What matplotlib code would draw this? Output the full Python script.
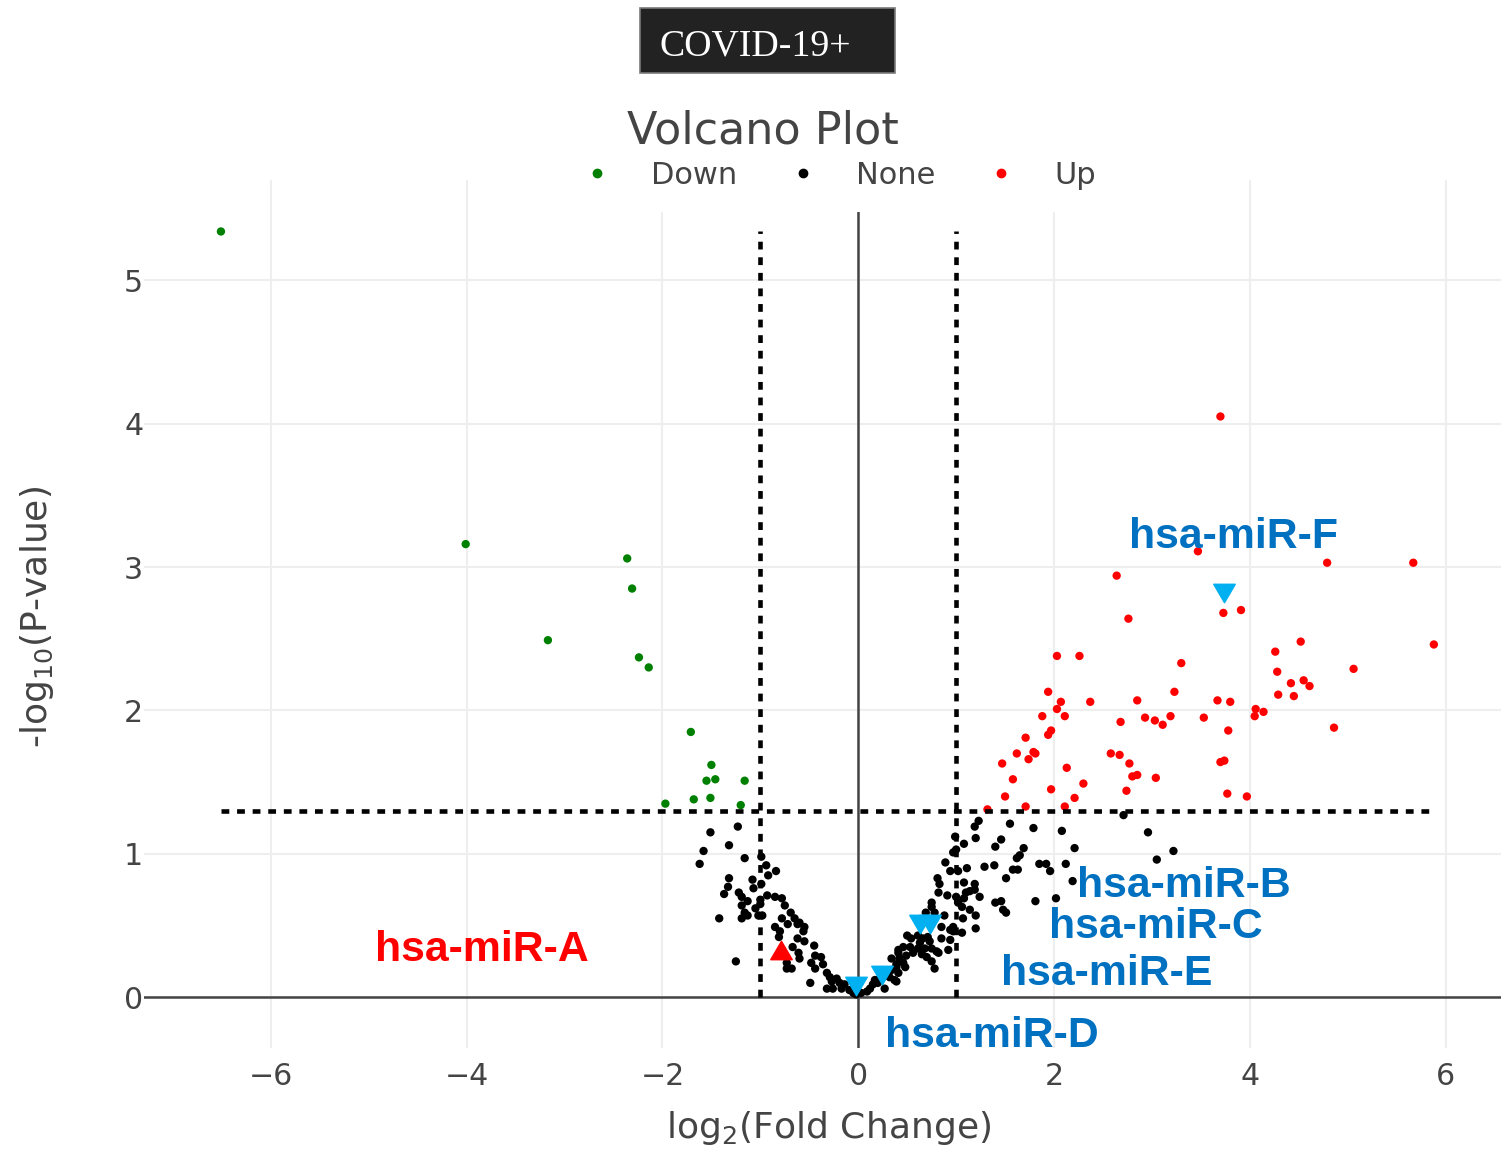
import matplotlib
matplotlib.use("Agg")
import matplotlib.pyplot as plt
from matplotlib.path import Path
from matplotlib.patches import Rectangle
from matplotlib.lines import Line2D

plt.rcParams['font.family'] = ['DejaVu Sans']
plt.rcParams['mathtext.default'] = 'regular'

# ---------------- data: log2 fold change / -log10 p-value ----------------
down_x = [-6.51, -4.01, -3.17, -2.36, -2.31, -2.24, -2.14, -1.71, -1.50, -1.55,
          -1.46, -1.16, -1.97, -1.68, -1.51, -1.20]
down_y = [5.34, 3.16, 2.49, 3.06, 2.85, 2.37, 2.30, 1.85, 1.62, 1.51,
          1.52, 1.51, 1.35, 1.38, 1.39, 1.34]

up_x = [3.47, 4.79, 5.67, 2.64, 3.73, 3.91, 2.76, 5.88, 4.52, 4.26,
        2.03, 2.26, 3.30, 5.06, 4.28, 4.42, 4.55, 4.61, 4.29, 4.45,
        1.94, 2.07, 2.37, 2.85, 3.23, 3.67, 3.80, 4.06, 4.14, 4.05,
        2.03, 1.88, 2.11, 2.68, 2.93, 3.03, 3.11, 3.19, 3.53, 3.78,
        4.86, 1.97, 1.94, 1.71, 1.62, 1.79, 1.81, 1.74, 1.47, 2.58,
        2.67, 2.77, 3.70, 3.74, 2.13, 1.58, 2.80, 2.85, 3.04, 1.50,
        1.97, 2.30, 2.74, 3.77, 3.97, 1.32, 1.71, 2.11, 2.21, 3.70]
up_y = [3.11, 3.03, 3.03, 2.94, 2.68, 2.70, 2.64, 2.46, 2.48, 2.41,
        2.38, 2.38, 2.33, 2.29, 2.27, 2.19, 2.21, 2.17, 2.11, 2.10,
        2.13, 2.06, 2.06, 2.07, 2.13, 2.07, 2.06, 2.01, 1.99, 1.96,
        2.01, 1.96, 1.96, 1.92, 1.95, 1.93, 1.90, 1.96, 1.95, 1.86,
        1.88, 1.86, 1.83, 1.81, 1.70, 1.71, 1.70, 1.66, 1.63, 1.70,
        1.69, 1.63, 1.64, 1.65, 1.60, 1.52, 1.54, 1.55, 1.53, 1.40,
        1.45, 1.49, 1.44, 1.42, 1.40, 1.31, 1.33, 1.33, 1.39, 4.05]

none_x = [-1.23, -1.51, -1.32, -1.58, -1.62, -1.16, -0.99, -0.94, -0.84, -0.92,
          -1.32, -1.08, -0.99, -1.33, -1.07, -1.37, -1.22, -1.19, -0.93, -0.85,
          -0.78, -1.13, -1.00, -1.19, -1.00, -0.75, -1.05, -1.16, -0.69, -1.13,
          -1.19, -1.02, -0.98, -1.42, -0.78, -0.65, -0.72, -0.62, -0.85, -0.80,
          -0.81, -0.62, -0.67, -0.61, -1.25, -0.73, -0.73, -0.68, -0.60, -0.55,
          -0.56, -0.55, -0.60, -0.45, -0.44, -0.38, -0.48, -0.44, -0.36, -0.32,
          -0.49, -0.29, -0.27, -0.22, -0.19, -0.32, -0.26, -0.17, -0.14, -0.09,
          -0.05, -0.02, 0.03, 0.09, 0.12, 0.15, 0.17, 0.20, 0.22, 0.27,
          0.32, 0.34, 0.34, 0.39, 0.41, 0.37, 1.23, 1.19, 0.99, 1.20,
          1.08, 1.40, 1.00, 0.97, 0.89, 1.29, 1.39, 0.94, 1.02, 1.11,
          0.81, 0.83, 1.08, 1.19, 1.19, 1.14, 0.82, 0.91, 1.00, 1.10,
          1.08, 1.24, 0.75, 1.02, 1.40, 0.75, 1.06, 1.14, 1.46, 0.69,
          0.78, 0.88, 1.07, 1.20, 0.97, 0.85, 0.94, 1.20, 0.85, 0.94,
          0.97, 1.06, 0.50, 0.54, 0.61, 0.66, 0.71, 0.73, 0.63, 0.46,
          0.53, 0.61, 0.68, 0.75, 0.80, 0.92, 0.41, 0.49, 0.56, 0.65,
          0.70, 0.82, 0.42, 0.46, 0.75, 0.39, 0.48, 0.41, 0.78, 0.39,
          2.71, 1.55, 1.79, 2.08, 2.96, 1.46, 1.69, 2.21, 3.22, 1.65,
          1.62, 1.85, 1.92, 2.12, 3.05, 1.58, 1.63, 1.96, 1.51, 2.19,
          1.81, 2.02, 1.48, 1.51]
none_y = [1.19, 1.15, 1.06, 1.02, 0.93, 0.97, 0.98, 0.92, 0.88, 0.85,
          0.83, 0.82, 0.79, 0.77, 0.76, 0.72, 0.73, 0.70, 0.71, 0.70,
          0.69, 0.67, 0.68, 0.64, 0.65, 0.64, 0.62, 0.59, 0.59, 0.57,
          0.55, 0.57, 0.57, 0.55, 0.55, 0.55, 0.51, 0.51, 0.49, 0.46,
          0.42, 0.41, 0.35, 0.31, 0.25, 0.24, 0.20, 0.20, 0.52, 0.49,
          0.46, 0.39, 0.27, 0.36, 0.29, 0.28, 0.24, 0.20, 0.23, 0.17,
          0.10, 0.14, 0.11, 0.13, 0.10, 0.06, 0.06, 0.06, 0.09, 0.05,
          0.03, 0.02, 0.03, 0.04, 0.06, 0.09, 0.12, 0.10, 0.13, 0.06,
          0.14, 0.19, 0.27, 0.23, 0.33, 0.12, 1.23, 1.19, 1.12, 1.11,
          1.07, 1.05, 1.03, 1.01, 0.94, 0.91, 0.92, 0.88, 0.88, 0.90,
          0.83, 0.79, 0.80, 0.79, 0.75, 0.74, 0.73, 0.71, 0.70, 0.73,
          0.69, 0.70, 0.66, 0.66, 0.66, 0.63, 0.63, 0.61, 0.67, 0.59,
          0.59, 0.57, 0.55, 0.57, 0.49, 0.49, 0.47, 0.48, 0.41, 0.40,
          0.46, 0.45, 0.43, 0.41, 0.43, 0.41, 0.42, 0.39, 0.38, 0.35,
          0.35, 0.34, 0.34, 0.34, 0.32, 0.33, 0.31, 0.29, 0.31, 0.30,
          0.28, 0.31, 0.27, 0.24, 0.25, 0.21, 0.21, 0.17, 0.20, 0.11,
          1.27, 1.21, 1.18, 1.16, 1.15, 1.10, 1.04, 1.04, 1.02, 0.99,
          0.97, 0.93, 0.93, 0.93, 0.96, 0.89, 0.89, 0.88, 0.83, 0.81,
          0.67, 0.69, 0.61, 0.59]

# highlighted miRNAs
hl_names = ["hsa-miR-A", "hsa-miR-B", "hsa-miR-C", "hsa-miR-D", "hsa-miR-E", "hsa-miR-F"]
hl_x = [-0.79, 0.73, 0.63, -0.02, 0.24, 3.74]
hl_y = [0.33, 0.51, 0.51, 0.08, 0.155, 2.82]
hl_dir = ["up", "down", "down", "down", "down", "down"]

# label anchor points (text centre x, baseline y)
lab_x = [-3.84, 3.33, 3.04, 1.36, 2.54, 3.83]
lab_y = [0.256, 0.70, 0.41, -0.345, 0.085, 3.135]

fc_cut = 1.0
p_cut = 1.301  # -log10(0.05)

x_ticks = [-6, -4, -2, 0, 2, 4, 6]
y_ticks = [0, 1, 2, 3, 4, 5]
x_range = (-7.296, 6.566)
y_range = (-0.354, 5.699)

# ---------------- figure ----------------
W, H = 1501, 1151
fig = plt.figure(figsize=(W / 100, H / 100), dpi=100)
left, right, top, bottom = 144, 1501, 180, 1048
ax = fig.add_axes([left / W, 1 - bottom / H, (right - left) / W, (bottom - top) / H])
ax.set_xlim(*x_range)
ax.set_ylim(*y_range)
for s in ax.spines.values():
    s.set_visible(False)

ax.set_xticks(x_ticks)
ax.set_yticks(y_ticks)
ax.set_xticklabels([str(t).replace("-", "\u2212") for t in x_ticks])
ax.tick_params(axis='both', length=0, labelsize=21.6, labelcolor='#444444')
ax.tick_params(axis='x', pad=10)
ax.tick_params(axis='y', pad=0.5)
ax.grid(True, color='#eeeeee', lw=1.5, zorder=0)
ax.set_axisbelow(True)

# zero lines
ax.axhline(0, color='#444444', lw=1.8, zorder=1)
ax.axvline(0, color='#444444', lw=1.8, zorder=1)

ms = 36
ax.scatter(down_x, down_y, s=ms, color='green', edgecolors='none', zorder=3)
ax.scatter(none_x, none_y, s=ms, color='black', edgecolors='none', zorder=3)
ax.scatter(up_x, up_y, s=ms, color='red', edgecolors='none', zorder=3)

# triangle markers (a bit wider than tall)
tri_down = Path([(-1, 0.857), (1, 0.857), (0, -0.857), (-1, 0.857)],
                [Path.MOVETO, Path.LINETO, Path.LINETO, Path.CLOSEPOLY])
tri_up = Path([(-1, -0.857), (1, -0.857), (0, 0.857), (-1, -0.857)],
              [Path.MOVETO, Path.LINETO, Path.LINETO, Path.CLOSEPOLY])
for x, y, d in zip(hl_x, hl_y, hl_dir):
    if d == "up":
        ax.plot([x], [y], marker=tri_up, ms=15.5, color='red', ls='none', zorder=4)
    else:
        ax.plot([x], [y], marker=tri_down, ms=15.5, color='#00B0F0', ls='none', zorder=4)

for name, x, y, d in zip(hl_names, lab_x, lab_y, hl_dir):
    ax.text(x, y, name, ha='center', va='baseline', fontsize=30.8, fontweight='bold',
            family='Liberation Sans', color='red' if d == "up" else '#0070C0', zorder=6)

# threshold lines
all_x = down_x + none_x + up_x
all_y = down_y + none_y + up_y
dash = (0, (1.7, 1.7))
for xv in (-fc_cut, fc_cut):
    ax.plot([xv, xv], [0, max(all_y)], color='black', lw=3.3, ls=dash,
            dash_capstyle='butt', zorder=5)
ax.plot([min(all_x), max(all_x)], [p_cut, p_cut], color='black', lw=3.3, ls=dash,
        dash_capstyle='butt', zorder=5)

# axis titles
ax.set_xlabel(r"log$_2$(Fold Change)", fontsize=26, color='#444444')
ax.xaxis.label.set_va('baseline')
ax.xaxis.set_label_coords((828.5 - left) / (right - left), -(1138 - bottom) / (bottom - top))
ax.set_ylabel(r"-log$_{10}$(P-value)", fontsize=26, color='#444444')
ax.yaxis.label.set_va('center')
ax.yaxis.set_label_coords((37 - left) / (right - left), (bottom - 617) / (bottom - top))

# white backdrop behind the legend (overlaps the top of the plot area)
fig.patches.append(Rectangle((575 / W, 1 - 212 / H), 540 / W, 40 / H,
                             transform=fig.transFigure, facecolor='white',
                             edgecolor='none', zorder=2))

handles = [Line2D([], [], marker='o', ls='none', color=c, ms=6)
           for c in ('green', 'black', 'red')]
fig.legend(handles, ['Down', 'None', 'Up'], loc='center left',
           bbox_to_anchor=(582 / W, 1 - 175 / H), ncol=3, frameon=False,
           fontsize=22, labelcolor='#444444', handlelength=1.0,
           handletextpad=1.25, columnspacing=1.65, borderpad=0, borderaxespad=0)

fig.text(762.5 / W, 1 - 143.3 / H, "Volcano Plot", ha='center', va='baseline',
         fontsize=32, color='#444444')

# condition badge
fig.patches.append(Rectangle((640 / W, 1 - 73 / H), 255 / W, 65 / H,
                             transform=fig.transFigure, facecolor='#222222',
                             edgecolor='#7a7a7a', lw=1.2, zorder=2))
fig.text(755.5 / W, 1 - 55 / H, "COVID-19+", ha='center', va='baseline',
         fontsize=27.3, color='white', family='Liberation Serif', zorder=3)

fig.savefig("out.png", dpi=100, facecolor='white')
